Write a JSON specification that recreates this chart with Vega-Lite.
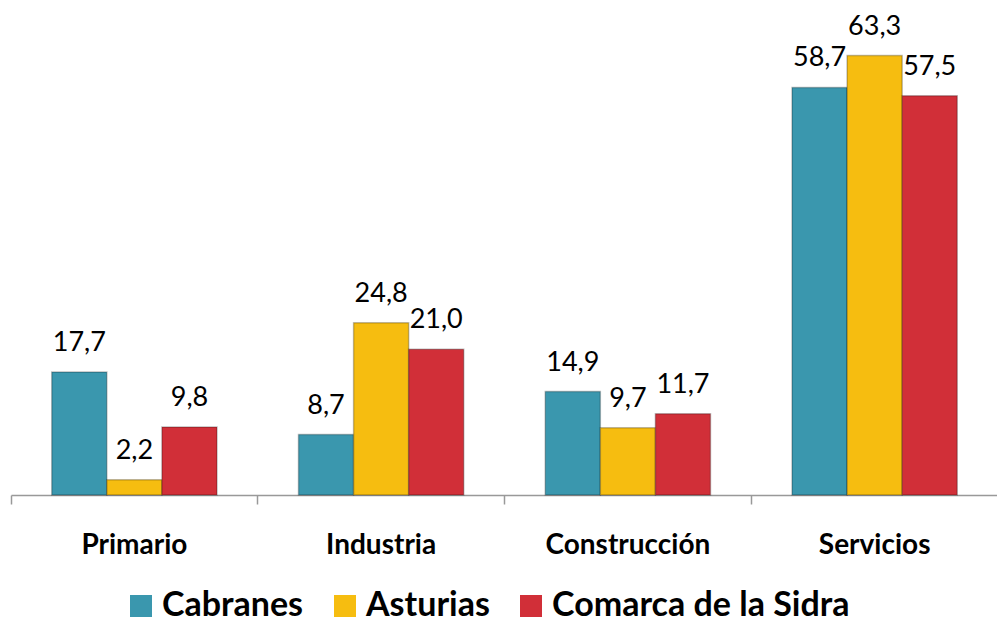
{
  "$schema": "https://vega.github.io/schema/vega-lite/v6.json",
  "width": 987,
  "height": 486,
  "padding": {"left": 10, "top": 9, "right": 0, "bottom": 0},
  "autosize": {"type": "pad"},
  "background": "white",
  "config": {
    "view": {"stroke": null},
    "locale": {"number": {"decimal": ",", "thousands": ".", "grouping": [3], "currency": ["", " €"]}},
    "font": "Lato"
  },
  "data": {
    "values": [
      {"sector": "Primario", "zona": "Cabranes", "valor": 17.7},
      {"sector": "Primario", "zona": "Asturias", "valor": 2.2},
      {"sector": "Primario", "zona": "Comarca de la Sidra", "valor": 9.8},
      {"sector": "Industria", "zona": "Cabranes", "valor": 8.7},
      {"sector": "Industria", "zona": "Asturias", "valor": 24.8},
      {"sector": "Industria", "zona": "Comarca de la Sidra", "valor": 21.0},
      {"sector": "Construcción", "zona": "Cabranes", "valor": 14.9},
      {"sector": "Construcción", "zona": "Asturias", "valor": 9.7},
      {"sector": "Construcción", "zona": "Comarca de la Sidra", "valor": 11.7},
      {"sector": "Servicios", "zona": "Cabranes", "valor": 58.7},
      {"sector": "Servicios", "zona": "Asturias", "valor": 63.3},
      {"sector": "Servicios", "zona": "Comarca de la Sidra", "valor": 57.5}
    ]
  },
  "encoding": {
    "x": {
      "field": "sector",
      "type": "nominal",
      "sort": ["Primario", "Industria", "Construcción", "Servicios"],
      "scale": {"paddingInner": 0, "paddingOuter": 0},
      "axis": {
        "title": null,
        "bandPosition": 0,
        "labelAngle": 0,
        "labelFont": "Lato",
        "labelFontSize": 28,
        "labelFontWeight": "bold",
        "labelColor": "#000000",
        "labelPadding": 27,
        "labelLimit": 300,
        "tickSize": 9,
        "tickColor": "#999999",
        "domainColor": "#999999",
        "domainWidth": 1.5,
        "tickWidth": 1.5,
        "grid": false
      }
    },
    "xOffset": {
      "field": "zona",
      "type": "nominal",
      "scale": {"domain": ["Cabranes", "Asturias", "Comarca de la Sidra"], "paddingInner": 0, "paddingOuter": 0.74}
    },
    "y": {
      "field": "valor",
      "type": "quantitative",
      "scale": {"domain": [0, 70], "nice": false},
      "axis": null
    }
  },
  "layer": [
    {
      "mark": {"type": "bar", "stroke": "#00000040", "strokeWidth": 1.5},
      "encoding": {
        "color": {
          "field": "zona",
          "type": "nominal",
          "scale": {"domain": ["Cabranes", "Asturias", "Comarca de la Sidra"], "range": ["#3a97ae", "#f6bd10", "#d12f38"]},
          "legend": {
            "title": null,
            "orient": "none",
            "direction": "horizontal",
            "legendX": 113,
            "legendY": 580,
            "symbolType": "square",
            "symbolSize": 484,
            "symbolStrokeWidth": 0,
            "labelFont": "Lato",
            "labelFontSize": 34,
            "labelFontWeight": "bold",
            "labelColor": "#000000",
            "labelOffset": 4,
            "labelLimit": 500,
            "columnPadding": 24
          }
        }
      }
    },
    {
      "mark": {"type": "text", "baseline": "bottom", "align": "center", "dy": -15, "fontSize": 27, "font": "Lato", "color": "#000000"},
      "encoding": {
        "text": {"field": "valor", "type": "quantitative", "format": ".1f"}
      }
    }
  ]
}
